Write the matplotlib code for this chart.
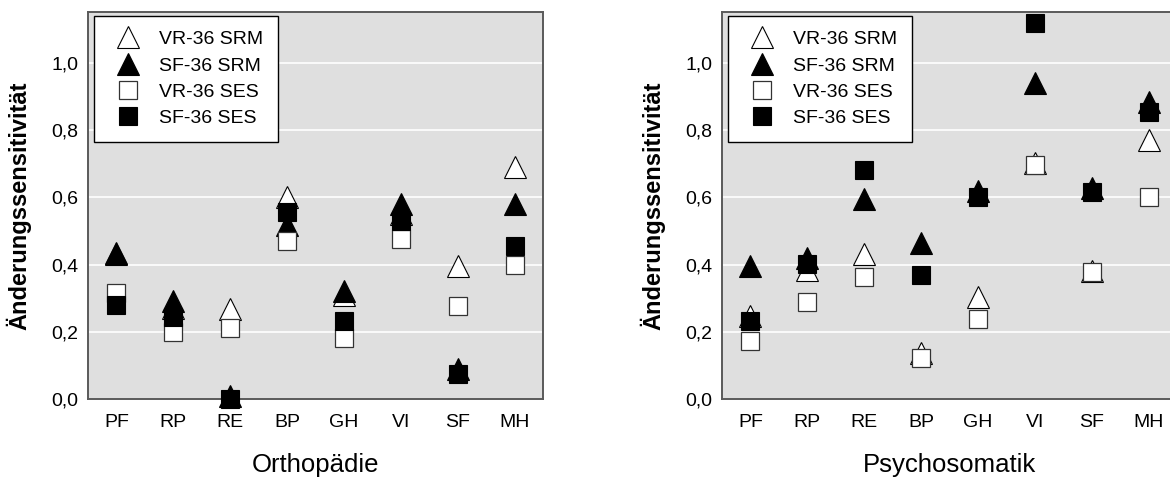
import numpy as np
import matplotlib.pyplot as plt

plt.rcParams['font.family'] = ['Liberation Sans', 'DejaVu Sans']

scales = ['PF', 'RP', 'RE', 'BP', 'GH', 'VI', 'SF', 'MH']
series_names = ['VR-36 SRM', 'SF-36 SRM', 'VR-36 SES', 'SF-36 SES']

# Orthopaedie
ortho_vr_srm = [0.43, 0.27, 0.268, 0.602, 0.31, 0.55, 0.397, 0.691]
ortho_sf_srm = [0.435, 0.292, 0.01, 0.518, 0.321, 0.579, 0.088, 0.579]
ortho_vr_ses = [0.315, 0.198, 0.21, 0.471, 0.182, 0.475, 0.277, 0.399]
ortho_sf_ses = [0.279, 0.245, 0.0, 0.555, 0.231, 0.53, 0.074, 0.455]

# Psychosomatik
psycho_vr_srm = [0.247, 0.383, 0.432, 0.138, 0.303, 0.701, 0.382, 0.771]
psycho_sf_srm = [0.397, 0.42, 0.594, 0.463, 0.62, 0.94, 0.627, 0.883]
psycho_vr_ses = [0.173, 0.29, 0.362, 0.121, 0.238, 0.695, 0.379, 0.602]
psycho_sf_ses = [0.233, 0.402, 0.682, 0.369, 0.602, 1.118, 0.615, 0.855]

yticks = [0.0, 0.2, 0.4, 0.6, 0.8, 1.0]
ytick_labels = ['0,0', '0,2', '0,4', '0,6', '0,8', '1,0']

styles = [
    dict(marker='^', ms=15.5, mfc='white', mec='black', mew=0.8),
    dict(marker='^', ms=15.5, mfc='black', mec='black', mew=0.8),
    dict(marker='s', ms=13, mfc='white', mec='#333333', mew=0.9),
    dict(marker='s', ms=13, mfc='black', mec='black', mew=0.8),
]


def draw_panel(ax, data, title):
    x = np.arange(1, len(scales) + 1)
    for vals, name, st in zip(data, series_names, styles):
        ax.plot(x, vals, linestyle='none', label=name, clip_on=False, zorder=3, **st)

    ax.set_facecolor('#dfdfdf')
    ax.set_xlim(0.5, 8.5)
    ax.set_ylim(0, 1.15)
    ax.set_xticks(x)
    ax.set_xticklabels(scales)
    ax.set_yticks(yticks)
    ax.set_yticklabels(ytick_labels)
    ax.tick_params(axis='both', length=0, labelsize=14)
    ax.tick_params(axis='x', pad=11)
    ax.tick_params(axis='y', pad=7)
    ax.yaxis.grid(True, color='white', linewidth=1.2)
    ax.set_axisbelow(True)
    for sp in ax.spines.values():
        sp.set_color('#5a5a5a')
        sp.set_linewidth(1.4)

    ax.set_ylabel('Änderungssensitivität', fontsize=17, fontweight='bold', labelpad=14)
    ax.set_xlabel(title, fontsize=18.5, labelpad=16)

    leg = ax.legend(loc='upper left', bbox_to_anchor=(0.013, 0.991), borderaxespad=0,
                    fontsize=14, frameon=True, fancybox=False, framealpha=1,
                    edgecolor='black', borderpad=0.75, labelspacing=0.45,
                    handlelength=2.0, handletextpad=0.6, numpoints=1)
    leg.get_frame().set_linewidth(1.0)


fig = plt.figure(figsize=(11.7, 4.82), dpi=100)
ax1 = fig.add_axes([0.0752, 0.1722, 0.3889, 0.8019])
ax2 = fig.add_axes([0.6171, 0.1722, 0.3889, 0.8019])

draw_panel(ax1, [ortho_vr_srm, ortho_sf_srm, ortho_vr_ses, ortho_sf_ses], 'Orthopädie')
draw_panel(ax2, [psycho_vr_srm, psycho_sf_srm, psycho_vr_ses, psycho_sf_ses], 'Psychosomatik')

fig.savefig('out.png', dpi=100)
